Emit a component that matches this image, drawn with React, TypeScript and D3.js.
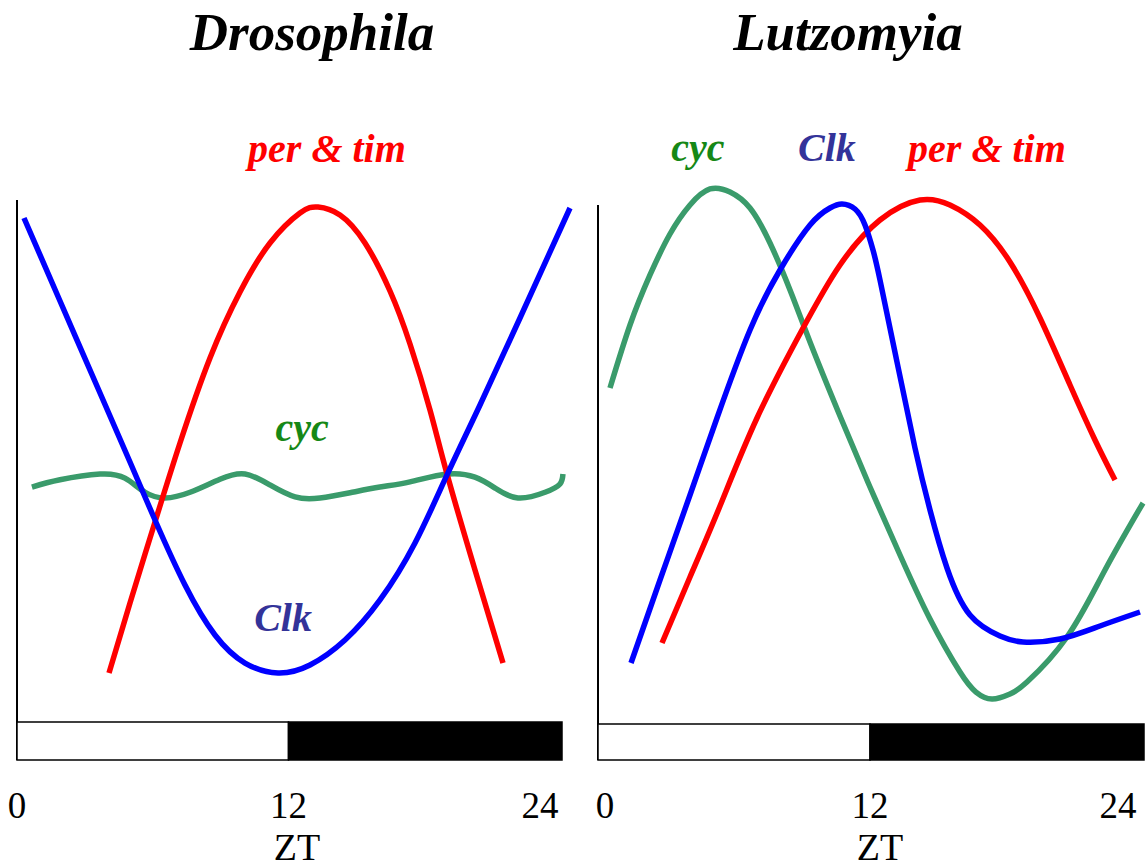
import React from "react";
import * as d3 from "d3";

// ---- Data (ZT hours, relative mRNA level) ----
const ztTicks = [0, 12, 24];
const lightPhase = [0, 12];
const darkPhase = [12, 24];

// Drosophila
const droClkZT = [0.309, 1.901, 3.669, 4.994, 6.099, 7.425, 8.751, 10.077, 11.536, 12.95, 14.497, 16.044, 17.591, 19.006, 20.464, 22.232, 24.442];
const droClkLevel = [96.54, 80.58, 62.88, 49.62, 38.46, 25.96, 16.35, 10.96, 9.04, 10.58, 15.38, 23.08, 34.04, 47.12, 60.58, 77.31, 98.46];

const droPerTimZT = [4.066, 4.994, 6.099, 7.204, 8.53, 9.856, 11.182, 12.508, 13.304, 14.276, 15.381, 16.486, 17.37, 18.254, 19.006, 20.243, 21.481];
const droPerTimLevel = [9.04, 22.5, 38.08, 53.27, 69.62, 82.31, 91.73, 97.5, 98.65, 97.12, 91.73, 82.5, 72.31, 59.62, 47.31, 28.85, 10.96];

const droCycZT = [0.66, 1.9, 3.67, 4.77, 5.66, 6.54, 7.65, 8.97, 10.08, 11.18, 12.29, 13.39, 14.72, 16.04, 17.37, 19.01, 20.24, 21.13, 22.14, 23.34, 24.0, 24.13];
const droCycLevel = [44.8, 46.2, 47.3, 46.5, 43.8, 42.7, 43.8, 46.3, 47.3, 45.2, 42.9, 42.7, 43.7, 44.8, 45.8, 47.3, 46.7, 44.6, 42.7, 43.8, 45.4, 47.3];

// Lutzomyia
const lutCycZT = [0.529, 1.412, 2.294, 3.176, 4.059, 4.941, 5.824, 6.706, 7.588, 8.471, 9.353, 10.676, 12.0, 13.324, 14.647, 15.971, 16.676, 17.382, 18.176, 18.926, 20.691, 22.368, 24.044];
const lutCycLevel = [63.85, 75.96, 85.58, 93.46, 99.04, 102.12, 101.54, 98.46, 91.73, 82.69, 72.69, 58.46, 44.81, 31.73, 19.42, 9.23, 5.38, 4.04, 5.0, 7.31, 15.96, 28.85, 41.73];

const lutClkZT = [1.456, 2.735, 4.059, 5.25, 6.706, 8.029, 9.353, 10.235, 10.765, 11.338, 11.779, 12.132, 12.441, 13.191, 13.985, 14.647, 15.397, 16.412, 17.735, 18.75, 20.382, 22.147, 23.912];
const lutClkLevel = [10.96, 26.92, 43.27, 58.08, 75.0, 86.54, 95.19, 98.46, 99.23, 98.27, 95.19, 90.38, 84.62, 68.85, 52.31, 40.38, 29.23, 20.19, 16.15, 15.0, 15.58, 18.08, 20.77];

const lutPerTimZT = [2.824, 4.059, 5.382, 7.015, 9.0, 10.676, 12.441, 14.206, 15.529, 16.853, 18.176, 19.5, 20.824, 21.926, 22.809];
const lutPerTimLevel = [14.81, 27.5, 41.15, 58.08, 75.0, 87.5, 96.15, 100.0, 99.04, 95.19, 88.08, 77.31, 64.42, 53.85, 46.15];

// ---- Styling ----
const RED = "#ff0000";
const BLUE = "#0000ff";
const GREEN_LINE = "#3a9b6b";
const GREEN_TEXT = "#168816";
const CLK_TEXT = "#333399";
const SERIF = "'Liberation Serif', 'Times New Roman', serif";

type Series = { zt: number[]; level: number[]; color: string };
type Label = { text: string; zt: number; level: number; color: string };

type Panel = {
  title: string;
  titleX: number;
  x0: number;
  x1: number;
  axisTop: number;
  barTop: number;
  series: Series[];
  labels: Label[];
  tickDx: number[];
  ztX: number;
};

const panels: Panel[] = [
  {
    title: "Drosophila",
    titleX: 312,
    x0: 17,
    x1: 560,
    axisTop: 200,
    barTop: 722,
    series: [
      { zt: droCycZT, level: droCycLevel, color: GREEN_LINE },
      { zt: droPerTimZT, level: droPerTimLevel, color: RED },
      { zt: droClkZT, level: droClkLevel, color: BLUE },
    ],
    labels: [
      { text: "per & tim", zt: 13.7, level: 107.3, color: RED },
      { text: "cyc", zt: 12.6, level: 53.7, color: GREEN_TEXT },
      { text: "Clk", zt: 11.76, level: 17.1, color: CLK_TEXT },
    ],
    tickDx: [0, 0, -20],
    ztX: 297,
  },
  {
    title: "Lutzomyia",
    titleX: 848,
    x0: 598,
    x1: 1142,
    axisTop: 205,
    barTop: 724,
    series: [
      { zt: lutCycZT, level: lutCycLevel, color: GREEN_LINE },
      { zt: lutPerTimZT, level: lutPerTimLevel, color: RED },
      { zt: lutClkZT, level: lutClkLevel, color: BLUE },
    ],
    labels: [
      { text: "cyc", zt: 4.41, level: 107.5, color: GREEN_TEXT },
      { text: "Clk", zt: 10.1, level: 107.5, color: CLK_TEXT },
      { text: "per & tim", zt: 17.16, level: 107.3, color: RED },
    ],
    tickDx: [7, 0, -24],
    ztX: 880,
  },
];

const W = 1146;
const H = 868;
const BAR_BOTTOM = 760;

// Shared level scale: 0 → 720px, 100 → 200px
const y = d3.scaleLinear().domain([0, 100]).range([720, 200]);

function PanelView({ p }: { p: Panel }) {
  const x = d3.scaleLinear().domain([0, 24]).range([p.x0, p.x1]);
  const line = d3
    .line<[number, number]>()
    .x((d) => x(d[0]))
    .y((d) => y(d[1]))
    .curve(d3.curveNatural);

  return (
    <g>
      <text
        x={p.titleX}
        y={50}
        textAnchor="middle"
        fontFamily={SERIF}
        fontWeight="bold"
        fontStyle="italic"
        fontSize={53}
        fill="#000"
      >
        {p.title}
      </text>

      {/* vertical axis */}
      <line x1={p.x0} x2={p.x0} y1={p.axisTop} y2={BAR_BOTTOM} stroke="#000" strokeWidth={2} />

      {/* light / dark bar */}
      <rect
        x={x(lightPhase[0])}
        y={p.barTop}
        width={x(lightPhase[1]) - x(lightPhase[0])}
        height={BAR_BOTTOM - p.barTop}
        fill="#fff"
        stroke="#000"
        strokeWidth={1.5}
      />
      <rect
        x={x(darkPhase[0])}
        y={p.barTop}
        width={x(darkPhase[1]) - x(darkPhase[0]) + 2}
        height={BAR_BOTTOM - p.barTop}
        fill="#000"
        stroke="#000"
        strokeWidth={1.5}
      />

      {/* expression curves */}
      {p.series.map((s, i) => (
        <path
          key={i}
          d={line(s.zt.map((t, j) => [t, s.level[j]] as [number, number])) || ""}
          fill="none"
          stroke={s.color}
          strokeWidth={5.5}
          strokeLinecap="butt"
          strokeLinejoin="round"
        />
      ))}

      {/* gene labels */}
      {p.labels.map((l, i) => (
        <text
          key={i}
          x={x(l.zt)}
          y={y(l.level)}
          textAnchor="middle"
          fontFamily={SERIF}
          fontWeight="bold"
          fontStyle="italic"
          fontSize={40}
          fill={l.color}
        >
          {l.text}
        </text>
      ))}

      {/* ZT ticks */}
      {ztTicks.map((t, i) => (
        <text
          key={t}
          x={x(t) + p.tickDx[i]}
          y={818}
          textAnchor="middle"
          fontFamily={SERIF}
          fontSize={37}
          fill="#000"
        >
          {t}
        </text>
      ))}
      <text x={p.ztX} y={860} textAnchor="middle" fontFamily={SERIF} fontSize={38} fill="#000">
        ZT
      </text>
    </g>
  );
}

export default function App() {
  return (
    <svg
      width={W}
      height={H}
      viewBox={`0 0 ${W} ${H}`}
      style={{ position: "absolute", left: 0, top: 0, background: "#fff" }}
    >
      <rect x={0} y={0} width={W} height={H} fill="#fff" />
      {panels.map((p) => (
        <PanelView key={p.title} p={p} />
      ))}
    </svg>
  );
}
